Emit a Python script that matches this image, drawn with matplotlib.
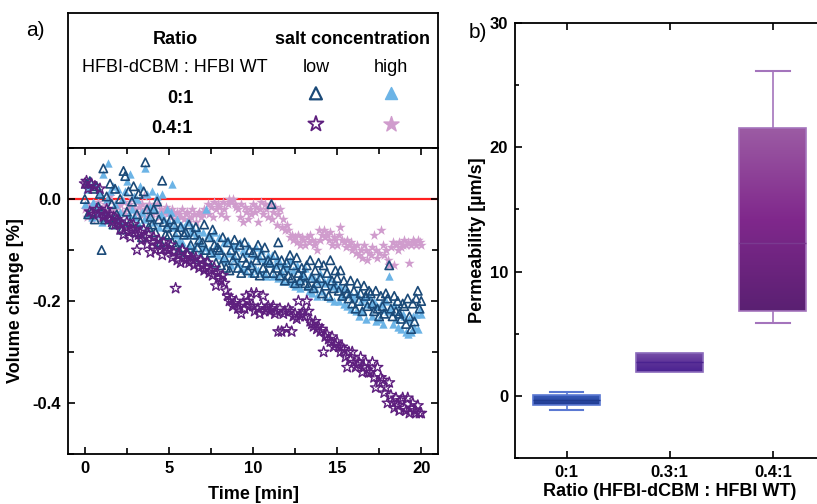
import numpy as np
import matplotlib
matplotlib.use("Agg")
import matplotlib.pyplot as plt
from matplotlib.colors import LinearSegmentedColormap
from matplotlib.ticker import MultipleLocator

plt.rcParams['font.family'] = ['Liberation Sans', 'DejaVu Sans']

# ---------------- data: panel a ----------------
time_min = np.linspace(0, 20, 201)

low_0_1 = [
    0.0, 0.03, -0.03, 0.035, -0.025, 0.02, -0.04, 0.025, -0.015, 0.01,
    -0.1, 0.06, -0.04, 0.005, -0.035, 0.03, -0.01, -0.05, 0.02, -0.03,
    -0.045, 0.0, -0.06, 0.055, 0.045, -0.025, 0.015, -0.045, -0.005, 0.025,
    -0.065, -0.03, 0.01, -0.045, -0.075, 0.015, 0.072, -0.02, -0.055, -0.035,
    -0.05, -0.02, -0.065, -0.005, -0.04, -0.085, 0.036, -0.045, -0.07, -0.055,
    -0.07, -0.04, -0.085, -0.05, -0.09, -0.065, -0.1, -0.055, -0.095, -0.07,
    -0.065, -0.105, -0.05, -0.09, -0.11, -0.07, -0.055, -0.095, -0.08, -0.115,
    -0.085, -0.05, -0.1, -0.12, -0.075, -0.105, -0.06, -0.09, -0.125, -0.095,
    -0.1, -0.13, -0.075, -0.115, -0.135, -0.085, -0.14, -0.1, -0.12, -0.08,
    -0.11, -0.135, -0.09, -0.145, -0.115, -0.085, -0.125, -0.14, -0.1, -0.13,
    -0.105, -0.145, -0.12, -0.09, -0.15, -0.11, -0.135, -0.095, -0.145, -0.12,
    -0.125, -0.01, -0.145, -0.11, -0.135, -0.085, -0.15, -0.12, -0.14, -0.16,
    -0.125, -0.15, -0.11, -0.155, -0.13, -0.165, -0.115, -0.145, -0.16, -0.135,
    -0.15, -0.165, -0.13, -0.17, -0.12, -0.155, -0.175, -0.14, -0.165, -0.125,
    -0.155, -0.185, -0.13, -0.17, -0.145, -0.19, -0.12, -0.16, -0.175, -0.14,
    -0.155, -0.18, -0.14, -0.19, -0.16, -0.175, -0.185, -0.195, -0.16, -0.205,
    -0.18, -0.215, -0.165, -0.2, -0.185, -0.22, -0.17, -0.19, -0.21, -0.18,
    -0.185, -0.205, -0.22, -0.18, -0.215, -0.23, -0.19, -0.21, -0.225, -0.185,
    -0.195, -0.13, -0.215, -0.23, -0.19, -0.22, -0.2, -0.225, -0.235, -0.205,
    -0.21, -0.245, -0.195, -0.23, -0.255, -0.205, -0.24, -0.195, -0.18, -0.215,
    -0.2]

high_0_1 = [
    -0.01, 0.02, -0.03, 0.025, -0.035, -0.005, 0.03, -0.03, -0.015, 0.01,
    -0.045, 0.05, -0.025, 0.0, 0.07, 0.015, -0.035, 0.025, -0.01, -0.04,
    0.02, -0.025, 0.0, -0.045, 0.015, 0.035, -0.03, 0.05, -0.02, 0.005,
    -0.035, 0.0, -0.05, 0.025, -0.025, -0.04, 0.06, 0.01, -0.035, -0.015,
    0.015, -0.045, -0.02, 0.005, -0.055, -0.03, 0.01, -0.04, -0.05, -0.02,
    -0.045, -0.025, 0.03, -0.055, -0.07, -0.04, -0.08, -0.05, -0.085, -0.055,
    -0.07, -0.045, -0.09, -0.065, -0.055, -0.095, -0.07, -0.06, -0.085, -0.1,
    -0.065, -0.095, -0.02, -0.07, -0.1, -0.075, -0.105, -0.065, -0.09, -0.11,
    -0.075, -0.1, -0.115, -0.085, -0.12, -0.08, -0.105, -0.13, -0.09, -0.115,
    -0.095, -0.125, -0.085, -0.135, -0.1, -0.14, -0.105, -0.09, -0.125, -0.145,
    -0.11, -0.135, -0.095, -0.14, -0.115, -0.1, -0.145, -0.12, -0.15, -0.11,
    -0.125, -0.11, -0.15, -0.13, -0.115, -0.155, -0.125, -0.145, -0.16, -0.13,
    -0.135, -0.16, -0.12, -0.165, -0.14, -0.17, -0.13, -0.16, -0.175, -0.145,
    -0.155, -0.135, -0.17, -0.18, -0.15, -0.185, -0.155, -0.175, -0.19, -0.16,
    -0.145, -0.18, -0.16, -0.19, -0.165, -0.155, -0.195, -0.17, -0.2, -0.165,
    -0.175, -0.2, -0.17, -0.19, -0.205, -0.175, -0.21, -0.185, -0.215, -0.19,
    -0.195, -0.22, -0.185, -0.23, -0.2, -0.22, -0.195, -0.235, -0.205, -0.19,
    -0.205, -0.23, -0.2, -0.24, -0.21, -0.235, -0.205, -0.245, -0.215, -0.2,
    -0.22, -0.15, -0.215, -0.245, -0.205, -0.235, -0.25, -0.22, -0.255, -0.225,
    -0.23, -0.26, -0.265, -0.235, -0.26, -0.23, -0.25, -0.225, -0.255, -0.215,
    -0.225]

low_04_1 = [
    0.03, 0.035, 0.02, -0.025, 0.03, -0.03, 0.025, -0.02, -0.03, 0.02,
    -0.025, -0.035, -0.03, -0.02, -0.04, -0.03, -0.045, -0.035, -0.05, -0.04,
    -0.045, -0.06, -0.05, -0.07, -0.055, -0.045, -0.065, -0.075, -0.06, -0.05,
    -0.06, -0.1, -0.07, -0.065, -0.08, -0.06, -0.075, -0.09, -0.07, -0.105,
    -0.085, -0.075, -0.1, -0.09, -0.08, -0.1, -0.11, -0.085, -0.095, -0.1,
    -0.1, -0.09, -0.115, -0.105, -0.175, -0.12, -0.11, -0.125, -0.1, -0.115,
    -0.12, -0.11, -0.125, -0.115, -0.12, -0.13, -0.115, -0.125, -0.135, -0.12,
    -0.13, -0.14, -0.135, -0.125, -0.145, -0.14, -0.15, -0.135, -0.17, -0.145,
    -0.155, -0.16, -0.15, -0.165, -0.18, -0.19, -0.2, -0.195, -0.21, -0.205,
    -0.2, -0.215, -0.21, -0.225, -0.205, -0.215, -0.19, -0.2, -0.21, -0.185,
    -0.21, -0.22, -0.185, -0.215, -0.225, -0.21, -0.19, -0.22, -0.215, -0.21,
    -0.22, -0.215, -0.21, -0.225, -0.22, -0.26, -0.215, -0.26, -0.225, -0.22,
    -0.255, -0.215, -0.22, -0.26, -0.23, -0.225, -0.235, -0.2, -0.23, -0.225,
    -0.22, -0.23, -0.2, -0.22, -0.24, -0.245, -0.25, -0.24, -0.255, -0.25,
    -0.26, -0.255, -0.3, -0.27, -0.265, -0.275, -0.28, -0.27, -0.29, -0.285,
    -0.28, -0.29, -0.3, -0.29, -0.295, -0.31, -0.33, -0.3, -0.315, -0.3,
    -0.32, -0.33, -0.325, -0.32, -0.31, -0.34, -0.33, -0.32, -0.335, -0.34,
    -0.34, -0.32, -0.35, -0.37, -0.33, -0.36, -0.35, -0.355, -0.38, -0.37,
    -0.4, -0.36, -0.385, -0.4, -0.41, -0.39, -0.405, -0.415, -0.395, -0.39,
    -0.41, -0.415, -0.39, -0.42, -0.41, -0.4, -0.415, -0.42, -0.405, -0.42,
    -0.42]

high_04_1 = [
    -0.02, -0.035, -0.01, -0.03, -0.04, -0.015, -0.025, -0.03, -0.005, -0.035,
    -0.02, -0.04, -0.01, -0.03, -0.025, 0.005, -0.035, -0.02, -0.01, -0.03,
    -0.015, -0.01, -0.025, -0.005, -0.03, -0.02, -0.01, -0.015, 0.0, -0.02,
    -0.025, -0.005, -0.015, -0.03, -0.01, 0.005, -0.02, -0.035, -0.01, -0.02,
    -0.03, -0.015, -0.025, -0.01, -0.035, -0.02, -0.03, -0.025, -0.015, -0.03,
    -0.025, -0.035, -0.02, -0.03, -0.04, -0.025, -0.03, -0.035, -0.02, -0.04,
    -0.03, -0.025, -0.04, -0.035, -0.02, -0.03, -0.045, -0.03, -0.025, -0.035,
    -0.03, -0.02, -0.025, -0.01, -0.03, -0.015, -0.035, -0.005, -0.02, -0.01,
    -0.015, -0.03, -0.005, -0.02, -0.035, -0.01, 0.0, -0.005, 0.0, -0.01,
    -0.015, -0.02, -0.035, -0.01, -0.045, -0.015, -0.025, -0.04, -0.02, -0.03,
    -0.01, -0.025, -0.015, -0.045, -0.02, -0.005, -0.03, -0.01, -0.02, -0.035,
    -0.01, -0.04, -0.025, -0.015, -0.05, -0.03, -0.02, -0.055, -0.04, -0.06,
    -0.05, -0.06, -0.075, -0.07, -0.08, -0.075, -0.085, -0.07, -0.09, -0.075,
    -0.08, -0.09, -0.075, -0.085, -0.07, -0.08, -0.09, -0.085, -0.1, -0.06,
    -0.08, -0.07, -0.06, -0.075, -0.07, -0.08, -0.065, -0.09, -0.075, -0.08,
    -0.09, -0.07, -0.055, -0.08, -0.085, -0.095, -0.08, -0.09, -0.085, -0.1,
    -0.095, -0.105, -0.09, -0.11, -0.1, -0.115, -0.09, -0.1, -0.12, -0.105,
    -0.11, -0.095, -0.07, -0.1, -0.115, -0.105, -0.06, -0.09, -0.11, -0.1,
    -0.12, -0.13, -0.095, -0.085, -0.13, -0.09, -0.1, -0.085, -0.095, -0.09,
    -0.08, -0.09, -0.085, -0.125, -0.09, -0.08, -0.085, -0.09, -0.08, -0.085,
    -0.09]

# ---------------- data: panel b ----------------
ratio_labels = ['0:1', '0.3:1', '0.4:1']
whisker_low = [-1.1, 1.9, 5.9]
q1 = [-0.72, 1.9, 6.8]
median = [-0.32, 2.7, 12.3]
q3 = [0.05, 3.48, 21.55]
whisker_high = [0.3, 3.48, 26.1]

col_low01 = '#1b4a78'
col_high01 = '#6cb4e6'
col_low04 = '#5e1f7e'
col_high04 = '#d09ccd'

box_top = ['#3a5cb8', '#7a52aa', '#9c5ca4']
box_mid = ['#2b4aa6', '#5e3399', '#80288c']
box_bot = ['#1f3a8e', '#4a2290', '#5a2072']
box_edge = ['#5a78d2', '#8a6abb', '#a474bc']

W, H = 817, 504
fig = plt.figure(figsize=(W / 100, H / 100), dpi=100)

def fx(px):
    return px / W

def fy(py):
    return 1 - py / H

# ---------- legend panel ----------
axl = fig.add_axes([fx(68), fy(148), fx(438) - fx(68), fy(13) - fy(148)])
axl.set_xticks([]); axl.set_yticks([])
axl.set_xlim(0, 1); axl.set_ylim(0, 1)
for s in axl.spines.values():
    s.set_linewidth(1.3)
fs = 13
axl.text(0.289, 0.807, 'Ratio', ha='center', va='center', fontsize=fs, fontweight='bold')
axl.text(0.770, 0.807, 'salt concentration', ha='center', va='center', fontsize=fs, fontweight='bold')
axl.text(0.289, 0.593, 'HFBI-dCBM : HFBI WT', ha='center', va='center', fontsize=fs)
axl.text(0.670, 0.593, 'low', ha='center', va='center', fontsize=fs)
axl.text(0.873, 0.593, 'high', ha='center', va='center', fontsize=fs)
axl.text(0.338, 0.363, '0:1', ha='right', va='center', fontsize=fs, fontweight='bold')
axl.text(0.338, 0.148, '0.4:1', ha='right', va='center', fontsize=fs, fontweight='bold')
axl.scatter([0.670], [0.405], marker='^', s=75, facecolors='none', edgecolors=col_low01, linewidths=1.6)
axl.scatter([0.873], [0.405], marker='^', s=75, color=col_high01)
axl.scatter([0.670], [0.178], marker='*', s=130, facecolors='none', edgecolors=col_low04, linewidths=1.3)
axl.scatter([0.873], [0.178], marker='*', s=130, color=col_high04)

fig.text(35 / W, fy(31), 'a)', ha='center', va='center', fontsize=15)
fig.text(478 / W, fy(33), 'b)', ha='center', va='center', fontsize=15)

# ---------- panel a ----------
ax = fig.add_axes([fx(68), fy(454), fx(438) - fx(68), fy(148) - fy(454)])
ax.axhline(0, color='#ff2020', lw=1.6, zorder=1)
ax.scatter(time_min, high_04_1, marker='*', s=62, color=col_high04, linewidths=0, zorder=2)
ax.scatter(time_min, high_0_1, marker='^', s=36, color=col_high01, linewidths=0, zorder=3)
ax.scatter(time_min, low_0_1, marker='^', s=36, facecolors='none', edgecolors=col_low01, linewidths=1.2, zorder=4)
ax.scatter(time_min, low_04_1, marker='*', s=66, facecolors='none', edgecolors=col_low04, linewidths=1.0, zorder=5)
ax.set_xlim(-1, 21)
ax.set_ylim(-0.5, 0.1)
ax.xaxis.set_major_locator(MultipleLocator(5))
ax.xaxis.set_minor_locator(MultipleLocator(2.5))
ax.set_yticks([0.0, -0.2, -0.4])
ax.set_yticklabels(['0.0', '-0.2', '-0.4'])
ax.yaxis.set_minor_locator(MultipleLocator(0.1))
ax.tick_params(which='both', direction='in', top=True, right=True, width=1.2, labelsize=12, pad=5)
ax.tick_params(which='major', length=5)
ax.tick_params(which='minor', length=4)
for lab in ax.get_xticklabels() + ax.get_yticklabels():
    lab.set_fontweight('bold')
for s in ax.spines.values():
    s.set_linewidth(1.3)
ax.set_xlabel('Time [min]', fontsize=13, fontweight='bold', labelpad=7)
ax.set_ylabel('Volume change [%]', fontsize=13, fontweight='bold', labelpad=6)

# ---------- panel b ----------
axb = fig.add_axes([fx(515), fy(458), (824.5 - 515) / W, fy(23) - fy(458)])
positions = [1, 2, 3]
bw = 0.65
stats = []
for i in range(3):
    stats.append(dict(med=median[i], q1=q1[i], q3=q3[i], whislo=whisker_low[i],
                      whishi=whisker_high[i], fliers=[], label=ratio_labels[i]))
bp = axb.bxp(stats, positions=positions, widths=bw, patch_artist=True,
             showfliers=False, capwidths=bw / 2)
for i, patch in enumerate(bp['boxes']):
    patch.set_facecolor('none')
    patch.set_edgecolor(box_edge[i])
    patch.set_linewidth(1.2)
    patch.set_zorder(3)
    cmap = LinearSegmentedColormap.from_list('g%d' % i, [box_bot[i], box_mid[i], box_top[i]])
    grad = np.linspace(0, 1, 256).reshape(-1, 1)
    im = axb.imshow(grad, cmap=cmap, aspect='auto', origin='lower',
                    extent=[positions[i] - bw / 2, positions[i] + bw / 2, q1[i], q3[i]], zorder=2)
    im.set_clip_path(patch)
for i in range(3):
    bp['medians'][i].set_color(box_bot[i] if i < 2 else '#7a3a90')
    bp['medians'][i].set_linewidth(1.0)
    bp['medians'][i].set_zorder(4)
    for k in (2 * i, 2 * i + 1):
        bp['whiskers'][k].set_color(box_edge[i])
        bp['whiskers'][k].set_linewidth(1.2)
        bp['caps'][k].set_color(box_edge[i])
        bp['caps'][k].set_linewidth(1.5)
    if whisker_low[i] == q1[i]:
        for k in (2 * i, 2 * i + 1):
            bp['whiskers'][k].set_visible(False)
            bp['caps'][k].set_visible(False)
axb.set_xlim(0.5, 3.5)
axb.set_ylim(-5, 30)
axb.set_xticks(positions)
axb.set_xticklabels(ratio_labels)
axb.set_yticks([0, 10, 20, 30])
axb.yaxis.set_minor_locator(MultipleLocator(5))
axb.tick_params(which='both', direction='in', top=True, right=False, width=1.2, labelsize=12, pad=5)
axb.tick_params(which='major', length=5)
axb.tick_params(which='minor', length=3)
for lab in axb.get_xticklabels() + axb.get_yticklabels():
    lab.set_fontweight('bold')
for s in axb.spines.values():
    s.set_linewidth(1.3)
axb.set_xlabel('Ratio (HFBI-dCBM : HFBI WT)', fontsize=13, fontweight='bold', labelpad=2)
axb.set_ylabel('Permeability [µm/s]', fontsize=13, fontweight='bold', labelpad=3)

fig.savefig('out.png', dpi=100)
